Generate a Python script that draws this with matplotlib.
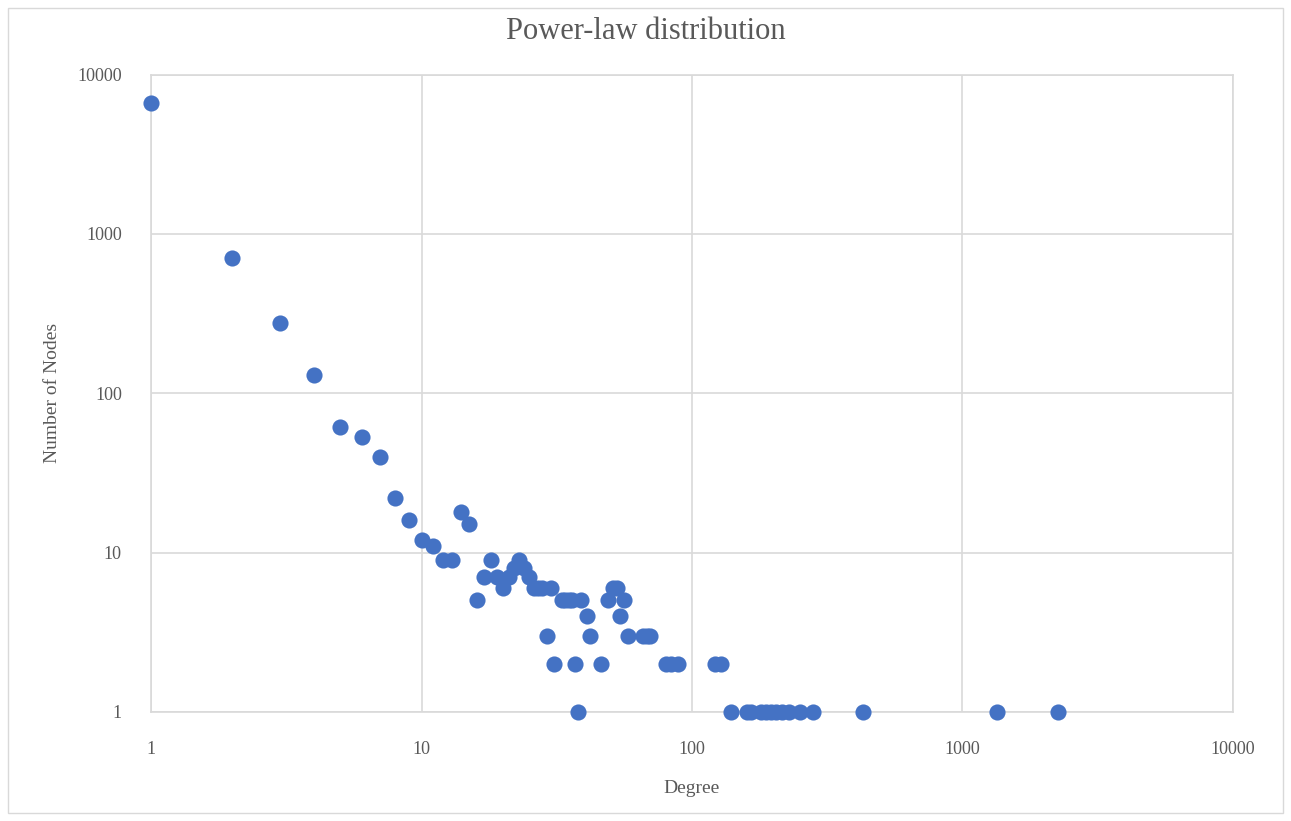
#!/usr/bin/env python
# coding: utf-8

import matplotlib
matplotlib.use('Agg')
import matplotlib.pyplot as plt
from matplotlib.patches import Rectangle
from matplotlib.ticker import FixedLocator, FuncFormatter, NullLocator

# degree -> number of nodes
degree = [1, 2, 3, 4, 5, 6, 7, 8, 9, 10,
          11, 12, 13, 14, 15, 16, 17, 18, 19, 20,
          21, 22, 23, 24, 25, 26, 27, 28, 29, 30,
          31, 33, 34, 35, 36, 37, 38, 39, 41, 42,
          46, 49, 51, 53, 54, 56, 58, 66, 68, 70,
          80, 84, 89, 122, 128, 139, 160, 165, 180, 188,
          196, 205, 215, 228, 250, 280, 430, 1340, 2250]
nodes = [6600, 710, 277, 131, 61, 53, 40, 22, 16, 12,
         11, 9, 9, 18, 15, 5, 7, 9, 7, 6,
         7, 8, 9, 8, 7, 6, 6, 6, 3, 6,
         2, 5, 5, 5, 5, 2, 1, 5, 4, 3,
         2, 5, 6, 6, 4, 5, 3, 3, 3, 3,
         2, 2, 2, 2, 2, 1, 1, 1, 1, 1,
         1, 1, 1, 1, 1, 1, 1, 1, 1]

decades = [1, 10, 100, 1000, 10000]

title = 'Power-law distribution'
xlabel = 'Degree'
ylabel = 'Number of Nodes'


def draw():
    plt.rcParams['font.family'] = ['Liberation Serif', 'DejaVu Serif']
    fig = plt.figure(figsize=(12.91, 8.21), dpi=100)
    ax = fig.add_axes([0.117, 0.133, 0.838, 0.776])

    ax.scatter(degree, nodes, s=135, color='#4472C4', zorder=3, clip_on=False,
               linewidths=0)

    ax.set_xscale('log')
    ax.set_yscale('log')
    ax.set_xlim(1, 10000)
    ax.set_ylim(1, 10000)

    fmt = FuncFormatter(lambda v, p: '%d' % round(v))
    for axis in (ax.xaxis, ax.yaxis):
        axis.set_major_locator(FixedLocator(decades))
        axis.set_minor_locator(NullLocator())
        axis.set_major_formatter(fmt)

    ax.grid(True, color='#D9D9D9', linewidth=1.2, zorder=0)
    ax.set_axisbelow(True)
    for sp in ax.spines.values():
        sp.set_color('#D9D9D9')
        sp.set_linewidth(1.2)
    ax.tick_params(length=0, labelsize=13, colors='#595959')
    ax.tick_params(axis='x', pad=21)
    ax.tick_params(axis='y', pad=21)

    ax.set_xlabel(xlabel, fontsize=14, color='#595959', labelpad=16)
    ax.set_ylabel(ylabel, fontsize=14, color='#595959', labelpad=12)
    fig.text(0.5, 0.962, title, ha='center', va='center', fontsize=22,
             color='#595959')

    # chart area border
    fig.patches.append(Rectangle((0.006, 0.01), 0.988, 0.98,
                                 transform=fig.transFigure, fill=False,
                                 edgecolor='#D9D9D9', linewidth=1))

    plt.savefig('out.png', dpi=100)
    plt.close()


if __name__ == '__main__':
    draw()
